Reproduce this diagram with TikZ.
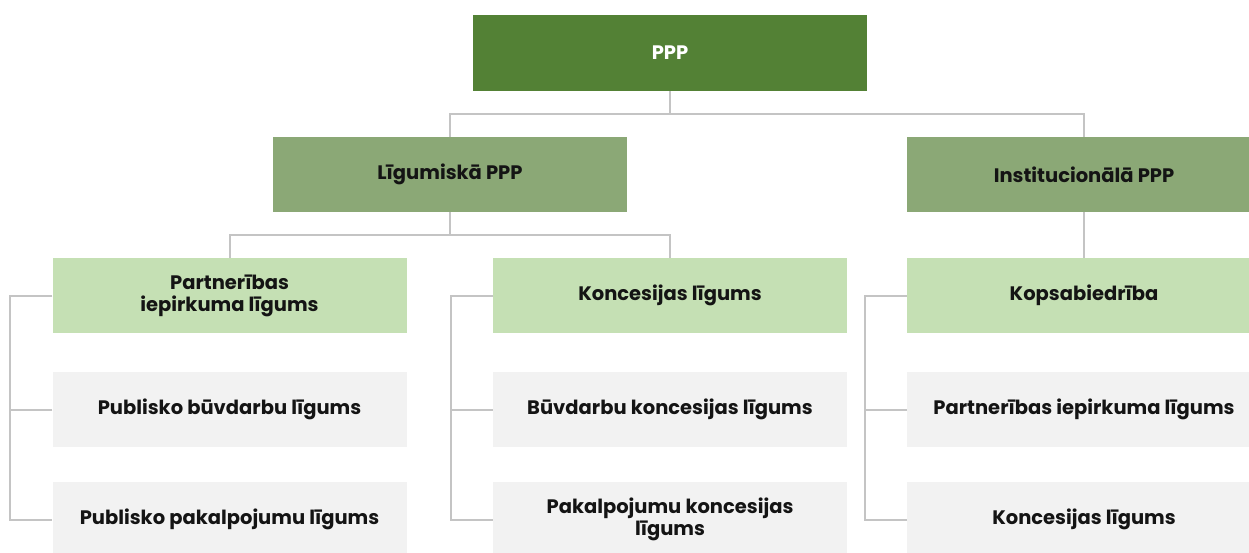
\documentclass[tikz,border=0pt]{standalone}
\usepackage{fontspec}
\setmainfont{Poppins}
\definecolor{dkgreen}{HTML}{538135}
\definecolor{mdgreen}{HTML}{8BA876}
\definecolor{ltgreen}{HTML}{C5E0B4}
\definecolor{ltgray}{HTML}{F2F2F2}
\definecolor{linegray}{HTML}{C4C4C4}
\definecolor{txt}{HTML}{141414}
\begin{document}
\begin{tikzpicture}[x=1pt,y=-1pt,
  box/.style={rectangle,inner sep=0pt,minimum width=354pt,minimum height=75pt,
    align=center,font=\fontsize{19.5}{22}\selectfont\bfseries,text=txt},
  topbox/.style={box,fill=dkgreen,text=white,minimum width=394pt,minimum height=76pt},
  midbox/.style={box,fill=mdgreen},
  lgbox/.style={box,fill=ltgreen},
  graybox/.style={box,fill=ltgray},
  conn/.style={draw=linegray,line width=2pt}]
\useasboundingbox (0,0) rectangle (1249,552);
\clip (0,0) rectangle (1249,552);
\node[topbox] (ppp) at (670,53) {PPP};
\node[midbox] (lig) at (450,174.5) {Līgumiskā PPP};
\node[midbox] (inst) at (1084,174.5) {Institucionālā PPP};
\node[lgbox] (pil) at (229.5,295.5) {Partnerības\\iepirkuma līgums};
\node[lgbox] (kon) at (670,295.5) {Koncesijas līgums};
\node[lgbox] (kop) at (1084,295.5) {Kopsabiedrība};
\node[graybox] (a2) at (229.5,409.5) {Publisko būvdarbu līgums};
\node[graybox] (a3) at (229.5,519.5) {Publisko pakalpojumu līgums};
\node[graybox] (b2) at (670,409.5) {Būvdarbu koncesijas līgums};
\node[graybox] (b3) at (670,519.5) {Pakalpojumu koncesijas\\līgums};
\node[graybox] (c2) at (1084,409.5) {Partnerības iepirkuma līgums};
\node[graybox] (c3) at (1084,519.5) {Koncesijas līgums};
\draw[conn] (ppp.south) -- ++(0,23) coordinate (j1) -| (lig.north);
\draw[conn] (j1) -| (inst.north);
\draw[conn] (lig.south) -- ++(0,23) coordinate (j2) -| (pil.north);
\draw[conn] (j2) -| (kon.north);
\draw[conn] (inst.south) -- (kop.north);
\draw[conn] (pil.west) -- ++(-42,0) |- (a3.west);
\draw[conn] (a2.west) -- ++(-42,0);
\draw[conn] (kon.west) -- ++(-42,0) |- (b3.west);
\draw[conn] (b2.west) -- ++(-42,0);
\draw[conn] (kop.west) -- ++(-42,0) |- (c3.west);
\draw[conn] (c2.west) -- ++(-42,0);
\end{tikzpicture}
\end{document}
